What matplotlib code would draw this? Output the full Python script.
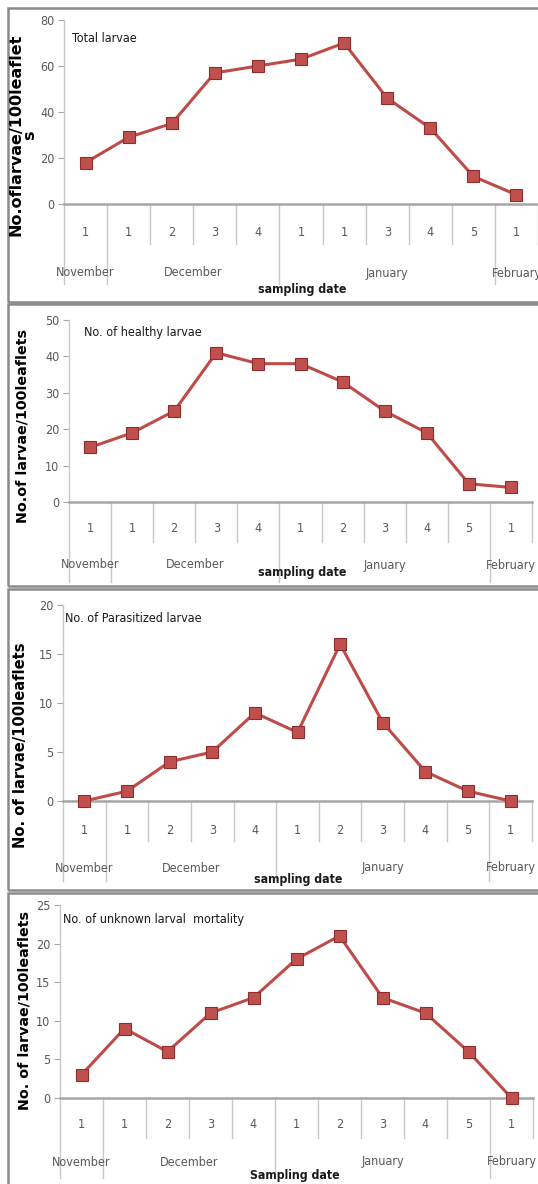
import matplotlib
matplotlib.use("Agg")
import matplotlib.pyplot as plt
import matplotlib.transforms as mtransforms
from matplotlib.patches import Rectangle
import numpy as np

# weekly samples, Nov -> Feb
weeks_total = ['1', '1', '2', '3', '4', '1', '1', '3', '4', '5', '1']
weeks = ['1', '1', '2', '3', '4', '1', '2', '3', '4', '5', '1']
months = ['November', 'December', 'January', 'February']
month_first = [0, 1, 5, 10]
month_last = [0, 4, 9, 10]

total_larvae = [18, 29, 35, 57, 60, 63, 70, 46, 33, 12, 4]
healthy_larvae = [15, 19, 25, 41, 38, 38, 33, 25, 19, 5, 4]
parasitized_larvae = [0, 1, 4, 5, 9, 7, 16, 8, 3, 1, 0]
unknown_mortality = [3, 9, 6, 11, 13, 18, 21, 13, 11, 6, 0]

titles = ['Total larvae', 'No. of healthy larvae', 'No. of Parasitized larvae',
          'No. of unknown larval  mortality']
ylabels = ['No.oflarvae/100leaflet\ns', 'No.of larvae/100leaflets',
           'No. of larvae/100leaflets', 'No. of larvae/100leaflets']
xlabels = ['sampling date', 'sampling date', 'sampling date', 'Sampling date']
ymax = [80, 50, 20, 25]
ystep = [20, 10, 5, 5]

W, H = 538, 1184
fig = plt.figure(figsize=(W / 100, H / 100), dpi=100)
fig.patch.set_facecolor('white')

narrow = ['Liberation Sans Narrow', 'DejaVu Sans']
line_c = '#BE4B48'
face_c = '#C0504D'
edge_c = '#8E2D2B'
tick_c = '#595959'
grid_c = '#C8C8C8'


def fx(x):
    return x / W


def fy(y):
    return 1 - y / H


# pixel boxes: frame (x0, y0, x1, y1), plot area (left, top, right, bottom)
frames = [(8, 8, 560, 302), (8, 304, 560, 586), (8, 589, 560, 890), (8, 893, 560, 1200)]
plots = [(64, 20, 538, 204), (69, 320, 532, 502), (63, 605, 532, 801), (60, 905, 533, 1098)]
title_xy = [(72, 38), (84, 332), (65, 618), (63, 920)]
ylabel_xy = [(23, 135), (23, 426), (21, 745), (25, 1010)]
ylabel_size = [11.5, 10.3, 10.6, 10.3]
row_y = [(233, 273, 290), (528, 565, 573), (830, 868, 879), (1125, 1162, 1175)]
xlabel_x = [302, 302, 298, 295]

series = [total_larvae, healthy_larvae, parasitized_larvae, unknown_mortality]
labels = [weeks_total, weeks, weeks, weeks]

for i in range(4):
    x0, y0, x1, y1 = frames[i]
    fig.patches.append(Rectangle((fx(x0), fy(y1)), fx(x1 - x0), (y1 - y0) / H,
                                 transform=fig.transFigure, fill=False,
                                 edgecolor='#8a8a8a', linewidth=1.8))

    left, top, right, bottom = plots[i]
    ax = fig.add_axes([fx(left), fy(bottom), fx(right - left), (bottom - top) / H])
    ax.set_facecolor('none')
    h = bottom - top

    x = np.arange(len(series[i]))
    ax.plot(x, series[i], color=line_c, linewidth=2.2, marker='s', markersize=8,
            markerfacecolor=face_c, markeredgecolor=edge_c, markeredgewidth=0.8,
            clip_on=False, zorder=5)

    ax.set_xlim(-0.5, len(x) - 0.5)
    ax.set_ylim(0, ymax[i])
    ax.set_yticks(np.arange(0, ymax[i] + 1, ystep[i]))
    ax.set_xticks([])
    ax.tick_params(axis='y', length=4, color='#A6A6A6', labelcolor=tick_c,
                   labelsize=9, pad=3)
    for lab in ax.get_yticklabels():
        lab.set_family(narrow)
        lab.set_stretch('condensed')

    for side in ['top', 'right']:
        ax.spines[side].set_visible(False)
    ax.spines['left'].set_color(grid_c)
    ax.spines['left'].set_linewidth(1.0)
    ax.spines['bottom'].set_color('#A6A6A6')
    ax.spines['bottom'].set_linewidth(1.8)

    # week separators: short inside a month, long between months
    trans = mtransforms.blended_transform_factory(ax.transData, ax.transAxes)
    short_y = -40 / h
    long_y = -80 / h
    for b in np.arange(-0.5, len(x), 1.0):
        is_long = b < 0 or any(abs(b - (f - 0.5)) < 0.01 for f in month_first)
        ax.plot([b, b], [0, long_y if is_long else short_y], transform=trans,
                color=grid_c, linewidth=1.0, clip_on=False)

    wk_y, mo_y, xl_y = row_y[i]
    for k, lab in enumerate(labels[i]):
        ax.text(k, -(wk_y - bottom) / h, lab, transform=trans, ha='center',
                va='center', fontsize=9, color=tick_c, family=narrow,
                stretch='condensed')
    for name, a, b in zip(months, month_first, month_last):
        ax.text((a + b) / 2, -(mo_y - bottom) / h, name, transform=trans,
                ha='center', va='center', fontsize=9, color=tick_c, family=narrow,
                stretch='condensed')

    fig.text(fx(xlabel_x[i]), fy(xl_y), xlabels[i], ha='center', va='center',
             fontsize=8.8, fontweight='bold', color='#1a1a1a', family=narrow,
             stretch='condensed')
    fig.text(fx(title_xy[i][0]), fy(title_xy[i][1]), titles[i], ha='left',
             va='center', fontsize=9, color='#1a1a1a', family=narrow,
             stretch='condensed')
    fig.text(fx(ylabel_xy[i][0]), fy(ylabel_xy[i][1]), ylabels[i], rotation=90,
             ha='center', va='center', multialignment='center',
             fontsize=ylabel_size[i], fontweight='bold', color='black',
             linespacing=0.85)

fig.savefig('out.png', dpi=100, facecolor='white')
